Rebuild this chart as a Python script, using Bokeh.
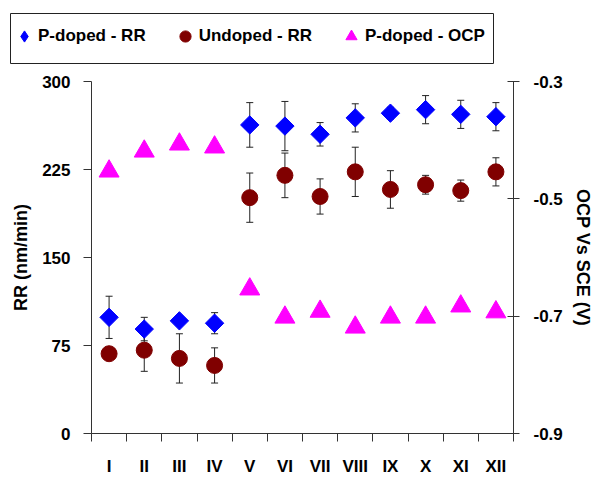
from bokeh.plotting import figure
from bokeh.layouts import column
from bokeh.models import (ColumnDataSource, Range1d, LinearAxis, FixedTicker, Whisker,
                          TeeHead, Legend, LegendItem)
from bokeh.embed import file_html
from bokeh.resources import INLINE
import math

categories = ["I", "II", "III", "IV", "V", "VI", "VII", "VIII", "IX", "X", "XI", "XII"]
pdoped_rr = [99, 89, 96, 94, 263, 262, 255, 269, 273, 276, 272, 270]
pdoped_err = [18, 10, 4, 9, 19, 21, 10, 12, 5, 12, 12, 12]
undoped_rr = [68, 71, 64, 58, 201, 220, 202, 223, 208, 212, 207, 223]
undoped_err = [4, 18, 21, 15, 21, 19, 15, 21, 16, 8, 9, 12]
pdoped_ocp = [-0.453, -0.419, -0.407, -0.412, -0.654, -0.702, -0.692, -0.719, -0.702, -0.702, -0.683, -0.693]
left_ticks = [0, 75, 150, 225, 300]
right_ticks = [-0.9, -0.7, -0.5, -0.3]
series_names = ["P-doped - RR", "Undoped - RR", "P-doped - OCP"]
series_colors = ["#0000FF", "#800000", "#FF00FF"]

xs = list(range(1, len(categories) + 1))
src = ColumnDataSource(dict(
    x=xs,
    p=pdoped_rr, p_lo=[v - e for v, e in zip(pdoped_rr, pdoped_err)], p_hi=[v + e for v, e in zip(pdoped_rr, pdoped_err)],
    u=undoped_rr, u_lo=[v - e for v, e in zip(undoped_rr, undoped_err)], u_hi=[v + e for v, e in zip(undoped_rr, undoped_err)],
    ocp=pdoped_ocp,
))

FONT = "Liberation Sans"
W, H = 600, 478
LEG_H = 73

# ---------------- main chart ----------------
p = figure(width=W, height=H - LEG_H, output_backend="svg", toolbar_location=None,
           x_range=Range1d(0.5, 12.5), y_range=Range1d(0, 300))
p.frame_align = False
p.min_border_left = 91
p.min_border_right = 87
p.min_border_top = 8
p.min_border_bottom = 44
p.outline_line_color = None
p.xgrid.visible = False
p.ygrid.visible = False
p.extra_y_ranges = {"ocp": Range1d(-0.9, -0.3)}

xa = p.xaxis[0]
xa.ticker = FixedTicker(ticks=xs, minor_ticks=[i + 0.5 for i in range(0, 13)])
xa.major_label_overrides = {x: c for x, c in zip(xs, categories)}
xa.major_tick_line_color = None
xa.major_tick_out = 0
xa.major_tick_in = 0
xa.minor_tick_out = 8
xa.minor_tick_in = 0
xa.minor_tick_line_color = "#333333"
xa.axis_line_color = "#333333"
xa.major_label_standoff = 15
xa.major_label_text_font = FONT
xa.major_label_text_font_style = "bold"
xa.major_label_text_font_size = "17px"
xa.major_label_text_color = "black"

ya = p.yaxis[0]
ya.ticker = FixedTicker(ticks=left_ticks)
ya.minor_tick_line_color = None
ya.major_tick_out = 8
ya.major_tick_in = 0
ya.major_tick_line_color = "#333333"
ya.axis_line_color = "#333333"
ya.major_label_standoff = 13
ya.major_label_text_font = FONT
ya.major_label_text_font_style = "bold"
ya.major_label_text_font_size = "17px"
ya.major_label_text_color = "black"
ya.axis_label = "RR (nm/min)"
ya.axis_label_text_font = FONT
ya.axis_label_text_font_style = "bold"
ya.axis_label_text_font_size = "18px"
ya.axis_label_text_color = "black"
ya.axis_label_standoff = 8

ra = LinearAxis(y_range_name="ocp", ticker=FixedTicker(ticks=right_ticks))
ra.major_label_overrides = {t: "%.1f" % t for t in right_ticks}
ra.minor_tick_line_color = None
ra.major_tick_out = 6
ra.major_tick_in = 6
ra.major_tick_line_color = "#333333"
ra.axis_line_color = "#333333"
ra.major_label_standoff = 14
ra.major_label_text_font = FONT
ra.major_label_text_font_style = "bold"
ra.major_label_text_font_size = "17px"
ra.major_label_text_color = "black"
ra.axis_label = "OCP Vs SCE (V)"
ra.axis_label_text_font = FONT
ra.axis_label_text_font_style = "bold"
ra.axis_label_text_font_size = "18px"
ra.axis_label_text_color = "black"
ra.axis_label_standoff = 7
p.add_layout(ra, "right")

for lo, hi in (("p_lo", "p_hi"), ("u_lo", "u_hi")):
    w = Whisker(source=src, base="x", lower=lo, upper=hi, line_color="#222222", line_width=1,
                upper_head=TeeHead(size=7, line_color="#222222", line_width=1),
                lower_head=TeeHead(size=7, line_color="#222222", line_width=1))
    p.add_layout(w)

p.scatter("x", "ocp", source=src, marker="triangle", size=20, color=series_colors[2],
          y_range_name="ocp")
p.scatter("x", "u", source=src, marker="circle", size=16, color=series_colors[1])
p.scatter("x", "p", source=src, marker="square", angle=math.pi / 4, size=13, color=series_colors[0])

# ---------------- legend strip (same data, outside the visible range) ----------------
# its frame is the legend box; the frame outline is the box border
lf = figure(width=W, height=LEG_H, output_backend="svg", toolbar_location=None,
            x_range=Range1d(-20, -19), y_range=Range1d(-20, -19),
            x_axis_type=None, y_axis_type=None)
lf.frame_align = False
lf.min_border_left = 10
lf.min_border_right = 107
lf.min_border_top = 13
lf.min_border_bottom = 10
lf.outline_line_color = "#222222"
lf.outline_line_width = 1
lf.xgrid.visible = False
lf.ygrid.visible = False
l_p = lf.scatter("x", "p", source=src, marker="diamond", color=series_colors[0])
l_u = lf.scatter("x", "u", source=src, marker="circle", color=series_colors[1])
l_o = lf.scatter("x", "ocp", source=src, marker="triangle", color=series_colors[2])

legend = Legend(items=[LegendItem(label=series_names[0], renderers=[l_p]),
                       LegendItem(label=series_names[1], renderers=[l_u]),
                       LegendItem(label=series_names[2], renderers=[l_o])],
                orientation="horizontal", location="top_left",
                label_text_font=FONT, label_text_font_style="bold", label_text_font_size="17px",
                label_text_color="black", border_line_color=None,
                padding=2, spacing=25, glyph_width=28, glyph_height=46, label_height=46,
                label_standoff=0, margin=0, background_fill_alpha=0)
lf.add_layout(legend, "center")

layout = column(lf, p, spacing=0)
open("out.html", "w").write(file_html(layout, INLINE))
